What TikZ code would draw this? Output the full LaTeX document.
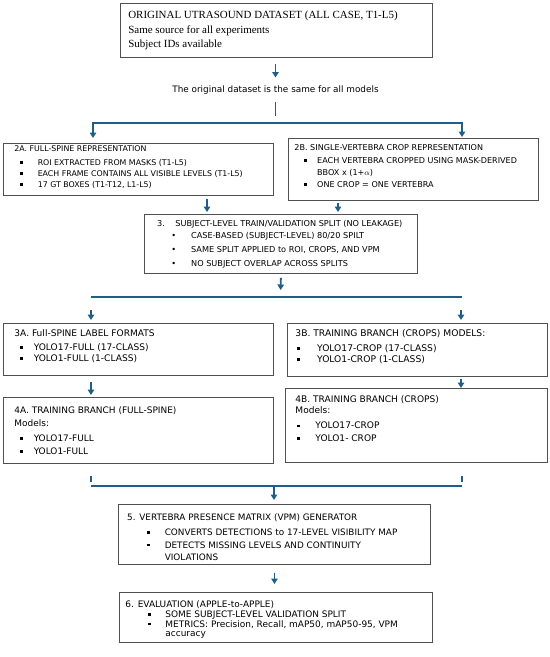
\documentclass[tikz,border=0pt]{standalone}
\usepackage{fontspec}
\setmainfont{Liberation Serif}
\newfontfamily\sansf{DejaVu Sans}
\usetikzlibrary{arrows.meta}
\definecolor{flow}{RGB}{30,94,135}
\definecolor{edge}{RGB}{80,80,80}
\newcommand\fs[1]{\sansf\fontsize{#1}{11}\selectfont}
\newcommand\sqb[2]{\makebox[#2][l]{\hspace*{#1}\makebox[0pt]{\rule[1.7bp]{2.7bp}{2.7bp}}}}
\newcommand\rdb[2]{\makebox[#2][l]{\hspace*{#1}\makebox[0pt]{\textbullet}}}
\newcommand\bx[4]{\parbox{#1}{\leftskip=#2\relax\rightskip=0pt plus 1fil\relax\parfillskip=0pt\relax\parindent=0pt\baselineskip=#3\relax #4}}
\begin{document}
\begin{tikzpicture}[x=1bp,y=-1bp,
  box/.style={draw=edge, line width=0.9bp, anchor=north west, inner sep=0pt},
  arr/.style={draw=flow, line width=1.8bp, -{Triangle[width=6.5bp,length=5.5bp]}},
  conn/.style={draw=flow, line width=1.8bp}]
\useasboundingbox (0,0) rectangle (550,657);

% boxes
\node[box, line width=1.2bp, minimum width=312bp, minimum height=54bp, font=\rmfamily\fontsize{11}{14.5}\selectfont] (b1) at (120,3)
 {\bx{312bp}{7.7bp}{14.5bp}{ORIGINAL UTRASOUND DATASET (ALL CASE, T1-L5)\\Same source for all experiments\\Subject IDs available}};

\node[inner sep=0pt, font=\fs{8.9}] (lab) at (275.5,90) {The original dataset is the same for all models};

\node[box, minimum width=270bp, minimum height=52bp, font=\fs{7.9}] (b2a) at (3,143)
 {\bx{270bp}{11bp}{11bp}{2A. FULL-SPINE REPRESENTATION\\[3bp]
 \sqb{6.7bp}{23.3bp}ROI EXTRACTED FROM MASKS (T1-L5)\\
 \sqb{6.7bp}{23.3bp}EACH FRAME CONTAINS ALL VISIBLE LEVELS (T1-L5)\\
 \sqb{6.7bp}{23.3bp}17 GT BOXES (T1-T12, L1-L5)\par\vspace*{4bp}}};

\node[box, minimum width=250bp, minimum height=62bp, font=\fs{8.1}] (b2b) at (288,138)
 {\bx{250bp}{6bp}{12.3bp}{2B. SINGLE-VERTEBRA CROP REPRESENTATION\\
 \sqb{11bp}{22.7bp}EACH VERTEBRA CROPPED USING MASK-DERIVED\\
 \hspace*{22.7bp}BBOX x (1+$\alpha$)\\
 \sqb{11bp}{22.7bp}ONE CROP = ONE VERTEBRA\par\vspace*{6bp}}};

\node[box, minimum width=273bp, minimum height=59bp, font=\fs{8.2}] (b3) at (144,214)
 {\bx{273bp}{12.7bp}{14bp}{\makebox[18.3bp][l]{3.}SUBJECT-LEVEL TRAIN/VALIDATION SPLIT (NO LEAKAGE)\\[-2.3bp]
 \rdb{16.6bp}{34bp}CASE-BASED (SUBJECT-LEVEL) 80/20 SPILT\\
 \rdb{16.6bp}{34bp}SAME SPLIT APPLIED to ROI, CROPS, AND VPM\\
 \rdb{16.6bp}{34bp}NO SUBJECT OVERLAP ACROSS SPLITS}};

\node[box, minimum width=270bp, minimum height=52bp, font=\fs{9.1}] (b3a) at (3,323)
 {\bx{270bp}{11bp}{11bp}{3A. Full-SPINE LABEL FORMATS\\[3bp]
 \sqb{6.7bp}{19.3bp}YOLO17-FULL (17-CLASS)\\
 \sqb{6.7bp}{19.3bp}YOLO1-FULL (1-CLASS)\par\vspace*{6bp}}};

\node[box, minimum width=260bp, minimum height=53bp, font=\fs{9.2}] (b3b) at (287,323)
 {\bx{260bp}{8bp}{11bp}{3B. TRAINING BRANCH (CROPS) MODELS:\\[4bp]
 \sqb{3.3bp}{21.7bp}YOLO17-CROP (17-CLASS)\\
 \sqb{3.3bp}{21.7bp}YOLO1-CROP (1-CLASS)\par\vspace*{6bp}}};

\node[box, minimum width=270bp, minimum height=66bp, font=\fs{9}] (b4a) at (3,397)
 {\bx{270bp}{11bp}{13bp}{4A. TRAINING BRANCH (FULL-SPINE)\\
 Models:\\[2bp]
 \sqb{6.7bp}{19.3bp}YOLO17-FULL\\
 \sqb{6.7bp}{19.3bp}YOLO1-FULL}};

\node[box, minimum width=262bp, minimum height=74bp, font=\fs{9.1}] (b4b) at (285,388)
 {\bx{262bp}{10bp}{12.5bp}{4B. TRAINING BRANCH (CROPS)\\[-0.8bp]
 Models:\\[2.5bp]
 \sqb{3.3bp}{20bp}YOLO17-CROP\\
 \sqb{3.3bp}{20bp}YOLO1- CROP\par\vspace*{14bp}}};

\node[box, minimum width=312bp, minimum height=60bp, font=\fs{8.9}] (b5) at (118,504)
 {\bx{312bp}{8.7bp}{12.5bp}{\vspace*{5bp}5. VERTEBRA PRESENCE MATRIX (VPM) GENERATOR\\[3bp]
 \sqb{21bp}{37.6bp}CONVERTS DETECTIONS to 17-LEVEL VISIBILITY MAP\\
 \sqb{21bp}{37.6bp}DETECTS MISSING LEVELS AND CONTINUITY\\
 \hspace*{37.6bp}VIOLATIONS}};

\node[box, minimum width=313bp, minimum height=50bp, font=\fs{9}] (b6) at (119,592)
 {\bx{313bp}{6bp}{9.7bp}{\vspace*{4bp}6. EVALUATION (APPLE-to-APPLE)\\[0.5bp]
 \sqb{24bp}{40bp}SOME SUBJECT-LEVEL VALIDATION SPLIT\\
 \sqb{24bp}{40bp}METRICS: Precision, Recall, mAP50, mAP50-95, VPM\\
 \hspace*{40bp}accuracy}};

% junction coordinates
\coordinate (j1) at (275.5,123);
\coordinate (j1l) at (93,123);
\coordinate (j1r) at (462,123);
\coordinate (x2a) at (207,0);
\coordinate (x2b) at (338,0);
\coordinate (j2) at (280.5,297);
\coordinate (j2l) at (91,297);
\coordinate (j2r) at (462,297);
\coordinate (x3r) at (461,0);
\coordinate (j3l) at (91,486);
\coordinate (j3r) at (462,486);
\coordinate (j3m) at (274,486);

% connectors
\draw[arr, shorten <=6bp, shorten >=8bp] (b1.south -| lab) -- (lab.north);
\draw[conn, shorten <=8bp, shorten >=7bp] (lab.south) -- (j1);
\draw[arr, shorten >=5bp] (j1) -| (b2a.north -| j1l);
\draw[arr, shorten >=1bp] (j1) -| (b2b.north -| j1r);
\draw[arr, shorten <=3bp, shorten >=2bp] (x2a |- b2a.south) -- (x2a |- b3.north);
\draw[arr, shorten <=2bp, shorten >=2bp] (x2b |- b2b.south) -- (x2b |- b3.north);
\draw[arr, shorten <=4bp, shorten >=7bp] (b3.south) -- (j2);
\draw[conn] (j2l) -- (j2r);
\draw[arr, shorten <=13bp, shorten >=3bp] (j2l) -- (j2l |- b3a.north);
\draw[arr, shorten <=13bp, shorten >=3bp] (x3r |- j2r) -- (x3r |- b3b.north);
\draw[arr, shorten <=6bp, shorten >=2bp] (b3a.south -| j2l) -- (b4a.north -| j2l);
\draw[arr, shorten <=2bp, shorten >=0bp] (b3b.south -| x3r) -- (b4b.north -| x3r);
\draw[conn, shorten <=12bp, shorten >=4bp] (b4a.south -| j3l) -- (j3l);
\draw[conn, shorten <=13bp, shorten >=4bp] (b4b.south -| j3r) -- (j3r);
\draw[conn] (j3l) -- (j3r);
\draw[arr, shorten >=4bp] (j3m) -- (b5.north -| j3m);
\draw[arr, shorten <=8bp, shorten >=8bp] (b5.south) -- (b5.south |- b6.north);
\end{tikzpicture}
\end{document}
